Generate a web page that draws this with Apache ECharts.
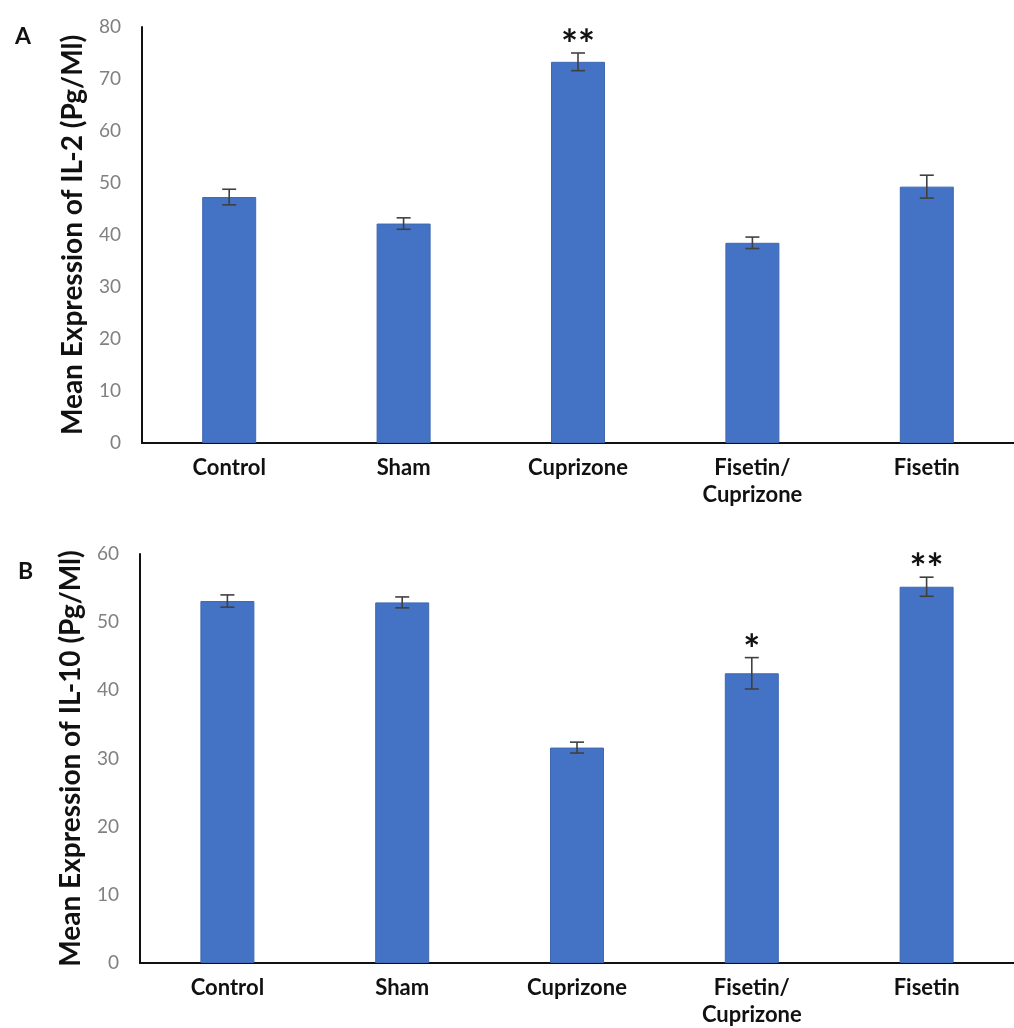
<!DOCTYPE html>
<html>
<head>
<meta charset="utf-8">
<script src="https://cdn.jsdelivr.net/npm/echarts@6/dist/echarts.min.js"></script>
<style>
  html, body { margin: 0; padding: 0; background: #fff; }
  #myChart { width: 1014px; height: 1028px; }
</style>
</head>
<body>
<div id="myChart"></div>
<script>
// groups on the x axis (same for both panels)
const categories = ['Control', 'Sham', 'Cuprizone', 'Fisetin/\nCuprizone', 'Fisetin'];

// panel A: IL-2
const il2Mean = [47.3, 42.2, 73.3, 38.5, 49.3];
const il2Err = [1.5, 1.1, 1.7, 1.1, 2.2];
const il2Marks = ['', '', '**', '', ''];
const il2Ticks = [0, 80, 10]; // min, max, step

// panel B: IL-10
const il10Mean = [53.1, 52.9, 31.6, 42.5, 55.2];
const il10Err = [0.9, 0.8, 0.8, 2.3, 1.4];
const il10Marks = ['', '', '', '*', '**'];
const il10Ticks = [0, 60, 10];

const FONT = 'Lato';
const BAR = '#4472c4';

// error bar + significance stars, drawn with the axis coords
function errorSeries(idx, mean, err, marks) {
  return {
    type: 'custom',
    xAxisIndex: idx,
    yAxisIndex: idx,
    z: 5,
    data: mean.map((m, i) => [i, m, err[i]]),
    renderItem: function(params, api) {
      const i = api.value(0);
      const m = api.value(1);
      const e = api.value(2);
      const star = marks[i];
      const top = api.coord([i, m + e]);
      const bot = api.coord([i, m - e]);
      const cap = 7;
      const style = { stroke: '#404040', lineWidth: 1.6 };
      const children = [
        { type: 'line', shape: { x1: top[0], y1: top[1], x2: bot[0], y2: bot[1] }, style: style },
        { type: 'line', shape: { x1: top[0] - cap, y1: top[1], x2: top[0] + cap, y2: top[1] }, style: style },
        { type: 'line', shape: { x1: bot[0] - cap, y1: bot[1], x2: bot[0] + cap, y2: bot[1] }, style: style }
      ];
      if (star) {
        children.push({
          type: 'text',
          style: {
            x: top[0],
            y: top[1] - 7,
            text: star,
            fill: '#111',
            font: 'bold 40px ' + FONT,
            align: 'center',
            verticalAlign: 'middle'
          }
        });
      }
      return { type: 'group', children: children };
    }
  };
}

function yAxis(idx, ticks, name) {
  return {
    type: 'value',
    gridIndex: idx,
    min: ticks[0],
    max: ticks[1],
    interval: ticks[2],
    name: name,
    nameLocation: 'middle',
    nameGap: 55,
    nameTextStyle: { fontFamily: FONT, fontWeight: 'bold', fontSize: 28, color: '#111' },
    axisLine: { show: true, lineStyle: { color: '#111', width: 2 } },
    axisTick: { show: false },
    splitLine: { show: false },
    axisLabel: { fontFamily: FONT, fontSize: 19, color: '#808080', margin: 21 }
  };
}

function xAxis(idx) {
  return {
    type: 'category',
    gridIndex: idx,
    data: categories,
    axisLine: { lineStyle: { color: '#111', width: 2 } },
    axisTick: { show: false },
    axisLabel: {
      fontFamily: FONT,
      fontWeight: 'bold',
      fontSize: 22,
      color: '#111',
      lineHeight: 27,
      margin: 11,
      interval: 0
    }
  };
}

const option = {
  backgroundColor: '#fff',
  animation: false,
  graphic: [
    { type: 'text', left: 15, top: 25, style: { text: 'A', font: 'bold 23px ' + FONT, fill: '#111' } },
    { type: 'text', left: 18, top: 560, style: { text: 'B', font: 'bold 23px ' + FONT, fill: '#111' } }
  ],
  grid: [
    { left: 142, top: 27, width: 878, height: 416 },
    { left: 140, top: 554, width: 878, height: 418 }
  ],
  xAxis: [xAxis(0), xAxis(1)],
  yAxis: [
    yAxis(0, il2Ticks, 'Mean Expression of IL-2 (Pg/Ml)'),
    yAxis(1, il10Ticks, 'Mean Expression of IL-10 (Pg/Ml)')
  ],
  series: [
    {
      type: 'bar',
      xAxisIndex: 0,
      yAxisIndex: 0,
      data: il2Mean,
      barWidth: 54,
      itemStyle: { color: BAR, borderColor: '#3f68b0', borderWidth: 1 }
    },
    errorSeries(0, il2Mean, il2Err, il2Marks),
    {
      type: 'bar',
      xAxisIndex: 1,
      yAxisIndex: 1,
      data: il10Mean,
      barWidth: 54,
      itemStyle: { color: BAR, borderColor: '#3f68b0', borderWidth: 1 }
    },
    errorSeries(1, il10Mean, il10Err, il10Marks)
  ]
};

const myChart = echarts.init(document.getElementById('myChart'));
myChart.setOption(option, true);
</script>
</body>
</html>
